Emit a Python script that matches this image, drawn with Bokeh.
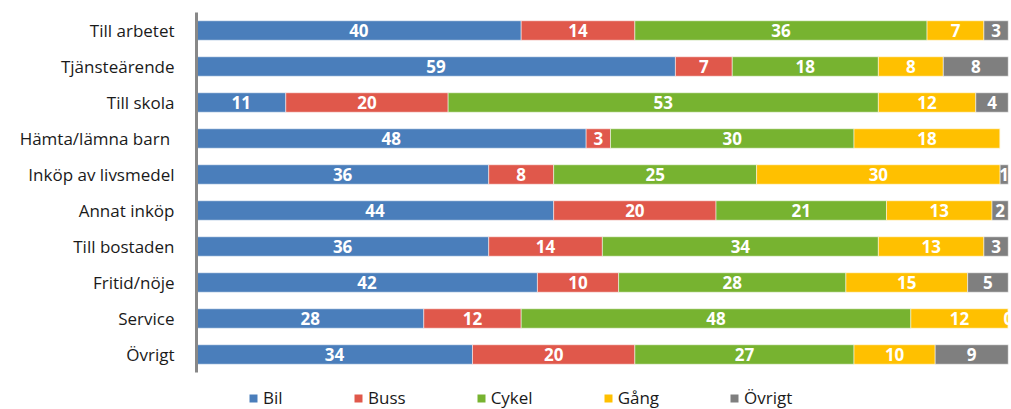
from bokeh.plotting import figure
from bokeh.layouts import column
from bokeh.models import ColumnDataSource, FactorRange, Range1d, Legend, LegendItem
from bokeh.embed import file_html
from bokeh.resources import INLINE
from bokeh.core.properties import value

categories = ["Till arbetet", "Tjänsteärende", "Till skola", "Hämta/lämna  barn",
              "Inköp av livsmedel", "Annat inköp", "Till bostaden", "Fritid/nöje",
              "Service", "Övrigt"]
bil = [40, 59, 11, 48, 36, 44, 36, 42, 28, 34]
buss = [14, 7, 20, 3, 8, 20, 14, 10, 12, 20]
cykel = [36, 18, 53, 30, 25, 21, 34, 28, 48, 27]
gang = [7, 8, 12, 18, 30, 13, 13, 15, 12, 10]
ovrigt = [3, 8, 4, None, 1, 2, 3, 5, 0, 9]
series_names = ["Bil", "Buss", "Cykel", "Gång", "Övrigt"]
series_values = [bil, buss, cykel, gang, ovrigt]
colors = ["#4A7EBB", "#E0584B", "#77B330", "#FFC000", "#7F7F7F"]

FONT = "Open Sans"

p = figure(width=1011, height=374, output_backend="svg", toolbar_location=None,
           y_range=FactorRange(factors=list(reversed(categories)), range_padding=0),
           x_range=Range1d(0, 100.4), x_axis_type=None,
           min_border_left=196, min_border_right=0, min_border_top=12, min_border_bottom=2)
p.outline_line_color = None
p.ygrid.grid_line_color = None
p.background_fill_color = "white"

# legend holder figure below the chart (its frame aligns with the chart's frame)
lg = figure(width=1011, height=35, output_backend="svg", toolbar_location=None,
            x_axis_type=None, y_axis_type=None, min_border=0,
            x_range=Range1d(0, 1), y_range=FactorRange(factors=series_names))
lg.outline_line_color = None
lg.xgrid.grid_line_color = None
lg.ygrid.grid_line_color = None

left = [0.0] * len(categories)
items = []
for name, vals, col in zip(series_names, series_values, colors):
    v = [x if x is not None else 0 for x in vals]
    right = [l + x for l, x in zip(left, v)]
    src = ColumnDataSource(dict(y=categories, left=left, right=right))
    p.hbar(y="y", left="left", right="right", height=0.54, source=src,
           fill_color=col, line_color="white", line_alpha=0.5, line_width=1)
    # zero-width key renderer so the legend can show the series colour
    key = lg.hbar(y=[name], left=[0], right=[0], height=0.5, fill_color=col, line_color=None)
    items.append(LegendItem(label=name, renderers=[key]))
    lx, ly, lt = [], [], []
    for c, l, x, raw in zip(categories, left, v, vals):
        if raw is None:
            continue
        lx.append(l + x / 2)
        ly.append(c)
        lt.append(str(raw))
    tsrc = ColumnDataSource(dict(x=lx, y=ly, t=lt))
    p.text(x="x", y="y", text="t", source=tsrc, text_align="center", text_baseline="middle",
           text_color="white", text_font=value(FONT), text_font_style="bold",
           text_font_size="17px")
    left = right

ax = p.yaxis[0]
ax.axis_line_color = "#888888"
ax.axis_line_width = 3
ax.major_tick_line_color = None
ax.minor_tick_line_color = None
ax.major_label_text_font = FONT
ax.major_label_text_font_size = "17px"
ax.major_label_text_color = "#1A1A1A"
ax.major_label_standoff = 16

legend = Legend(items=items, orientation="horizontal", location=(52, 0),
                glyph_width=10, glyph_height=10, label_standoff=5, spacing=70,
                padding=0, margin=0, border_line_color=None, background_fill_alpha=0,
                label_text_font=FONT, label_text_font_size="17px",
                label_text_color="#1A1A1A")
lg.add_layout(legend, "center")

layout = column(p, lg, spacing=0)
open("out.html", "w").write(file_html(layout, INLINE))
